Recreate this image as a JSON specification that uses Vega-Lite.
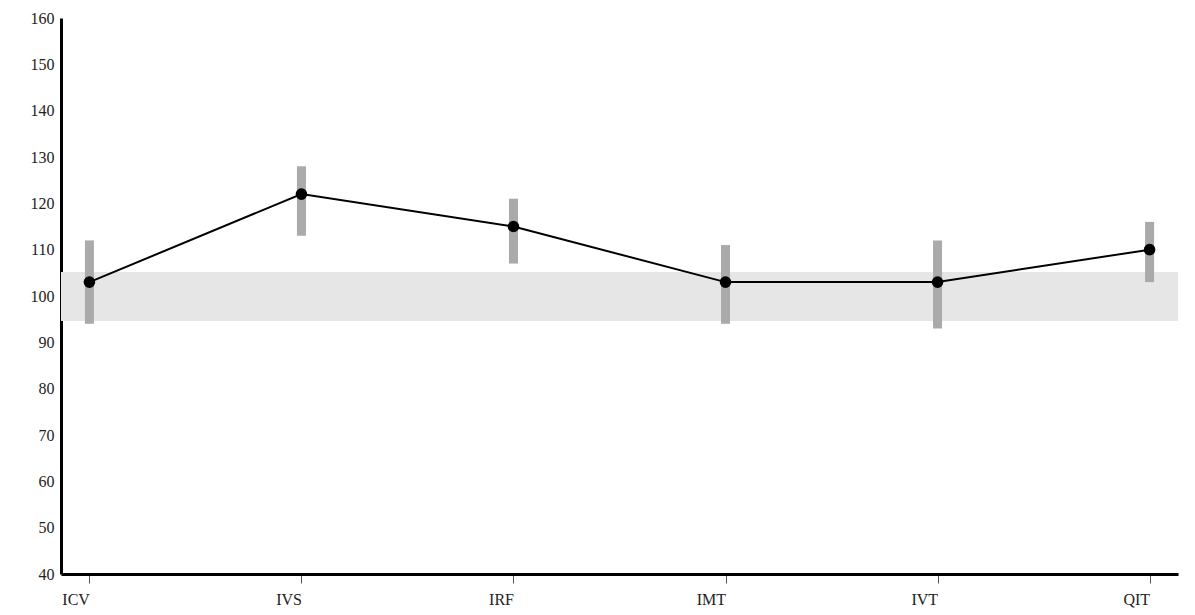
{
  "$schema": "https://vega.github.io/schema/vega-lite/v6.json",
  "width": 1117,
  "height": 556,
  "autosize": "none",
  "padding": {"left": 61, "top": 18, "right": 17, "bottom": 41},
  "background": "white",
  "config": {
    "view": {"stroke": null},
    "axis": {"labelFont": "Liberation Serif", "labelFontSize": 16, "labelColor": "#222222", "grid": false, "title": null}
  },
  "datasets": {
    "pts": [
      {"cat": "ICV", "mean": 103, "lo": 94, "hi": 112},
      {"cat": "IVS", "mean": 122, "lo": 113, "hi": 128},
      {"cat": "IRF", "mean": 115, "lo": 107, "hi": 121},
      {"cat": "IMT", "mean": 103, "lo": 94, "hi": 111},
      {"cat": "IVT", "mean": 103, "lo": 93, "hi": 112},
      {"cat": "QIT", "mean": 110, "lo": 103, "hi": 116}
    ],
    "band": [{"lo": 94.6, "hi": 105.2}]
  },
  "layer": [
    {
      "data": {"name": "band"},
      "mark": {"type": "rect", "color": "#e6e6e6"},
      "encoding": {
        "y": {"field": "lo", "type": "quantitative", "scale": {"domain": [40, 160]}},
        "y2": {"field": "hi"}
      }
    },
    {
      "data": {"name": "pts"},
      "mark": {"type": "rule", "color": "#aaaaaa", "strokeWidth": 9, "strokeCap": "butt"},
      "encoding": {
        "x": {"field": "cat", "type": "ordinal", "sort": null, "scale": {"type": "point", "padding": 0.134}},
        "y": {"field": "lo", "type": "quantitative"},
        "y2": {"field": "hi"}
      }
    },
    {
      "data": {"name": "pts"},
      "mark": {"type": "line", "color": "black", "strokeWidth": 2},
      "encoding": {
        "x": {"field": "cat", "type": "ordinal", "sort": null},
        "y": {"field": "mean", "type": "quantitative"}
      }
    },
    {
      "data": {"name": "pts"},
      "mark": {"type": "circle", "color": "black", "opacity": 1, "size": 135},
      "encoding": {
        "x": {"field": "cat", "type": "ordinal", "sort": null,
          "axis": {"labelAngle": 0, "domainColor": "black", "domainWidth": 3, "tickColor": "#555555", "tickSize": 9, "tickWidth": 1, "labelPadding": 16}},
        "y": {"field": "mean", "type": "quantitative",
          "axis": {"values": [40,50,60,70,80,90,100,110,120,130,140,150,160], "ticks": false, "domainColor": "black", "domainWidth": 3, "labelPadding": 7}}
      }
    }
  ]
}
